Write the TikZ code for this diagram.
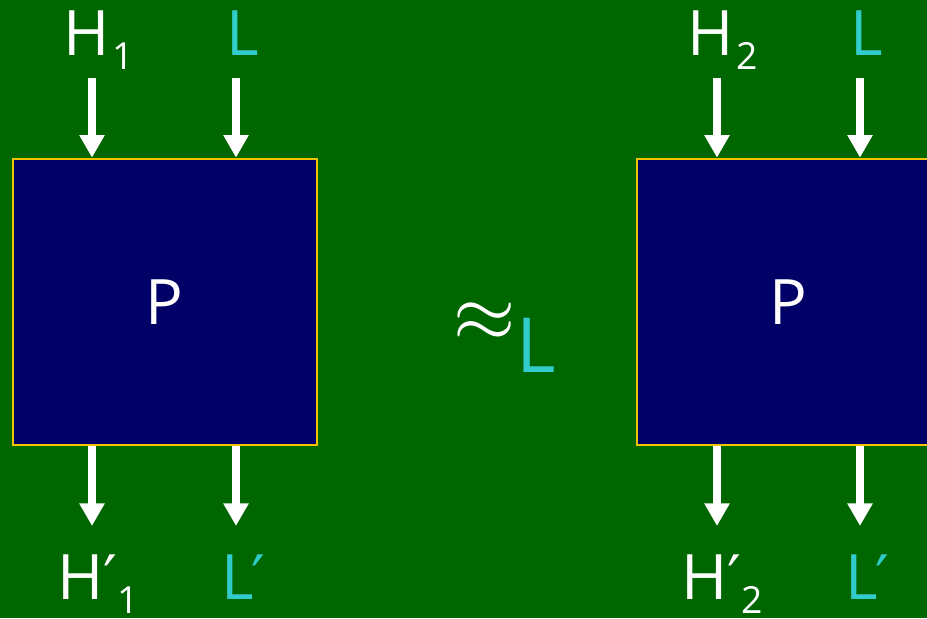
\documentclass[tikz,border=0pt]{standalone}
\usepackage{fontspec}
\setmainfont{Open Sans}
\newfontfamily\primefont{DejaVu Sans}
\usepackage{graphicx}
\usepackage{tikz}
\usetikzlibrary{arrows.meta,positioning}
\usepackage{xcolor}
\definecolor{bggreen}{RGB}{0,102,0}
\definecolor{boxnavy}{RGB}{0,0,102}
\definecolor{boxrim}{RGB}{240,196,0}
\definecolor{low}{RGB}{51,204,204}

\newcommand{\bigtxt}{\fontsize{47}{52}\selectfont}
\newcommand{\subtxt}[1]{{\fontsize{28}{30}\selectfont\raisebox{-11pt}{#1}}}
\newcommand{\prm}{{\primefont\fontsize{46}{50}\selectfont\char"2032}}

\begin{document}
\begin{tikzpicture}[x=0.75pt,y=-0.75pt,
  proc/.style={draw=boxrim,line width=1.5pt,fill=boxnavy,text=white,
    minimum width=228pt,minimum height=215pt,inner sep=0pt,font=\bigtxt},
  flow/.style={draw=white,line width=6pt,-{Triangle[length=17pt,width=18pt]}},
  lab/.style={anchor=base west,inner sep=0pt,font=\bigtxt}]
\useasboundingbox (0,0) rectangle (927,618);
\fill[bggreen] (0,0) rectangle (927,618);
\clip (0,0) rectangle (927,618);
% left process
\node[proc] (p1) at (164.5,302) {P};
\node[lab,text=white] (h1) at (63,55) {H\kern2pt\subtxt{1}};
\node[lab,text=low] (l1) at (226,55) {L};
\node[lab,text=white] (h1p) at (57,599) {H\kern0pt\prm\kern0pt\subtxt{1}};
\node[lab,text=low] (l1p) at (221,599) {L\kern-2pt\prm};
\coordinate (h1in) at (92,78);
\coordinate (l1in) at (236,78);
\coordinate (h1out) at (92,526);
\coordinate (l1out) at (236,526);
\draw[flow] (h1in) -- (h1in |- p1.north);
\draw[flow] (l1in) -- (l1in |- p1.north);
\draw[flow] (h1out |- p1.south) -- (h1out);
\draw[flow] (l1out |- p1.south) -- (l1out);
% low equivalence
\node[anchor=base west,inner sep=0pt,text=white] (eq) at (453,341) {\scalebox{6}{$\approx$}};
\node[anchor=base west,inner sep=0pt,text=low,font=\fontsize{57}{60}\selectfont] (eqsub) at (516,372) {L};
% right process
\node[proc] (p2) at (788.5,302) {P};
\node[lab,text=white] (h2) at (687,55) {H\kern2pt\subtxt{2}};
\node[lab,text=low] (l2) at (850,55) {L};
\node[lab,text=white] (h2p) at (681,599) {H\kern0pt\prm\kern0pt\subtxt{2}};
\node[lab,text=low] (l2p) at (845,599) {L\kern-2pt\prm};
\coordinate (h2in) at (717,78);
\coordinate (l2in) at (860,78);
\coordinate (h2out) at (717,526);
\coordinate (l2out) at (860,526);
\draw[flow] (h2in) -- (h2in |- p2.north);
\draw[flow] (l2in) -- (l2in |- p2.north);
\draw[flow] (h2out |- p2.south) -- (h2out);
\draw[flow] (l2out |- p2.south) -- (l2out);
\end{tikzpicture}
\end{document}
